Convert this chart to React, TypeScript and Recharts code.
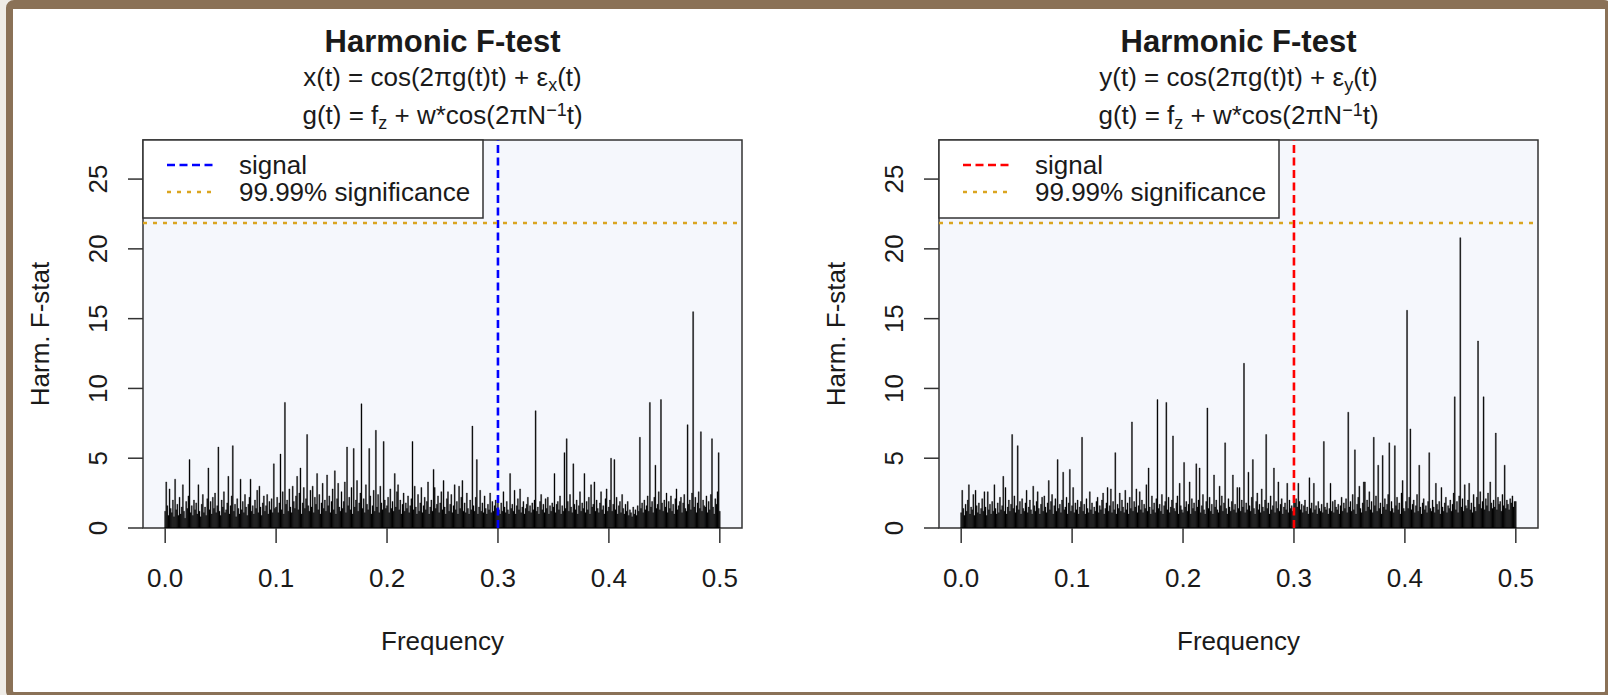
import React from 'react';
import { ComposedChart, Bar, XAxis, YAxis, CartesianGrid, ReferenceLine, ReferenceArea } from 'recharts';

// Harmonic F-statistic per frequency bin, bins are 0.001 apart.
// x(t) panel: bins 0-99, 100-199, 200-299, 300-399, 400-500
const fx0 = [
  1.2, 3.3, 1.6, 0.9, 2.8, 1.4, 1.1, 2.0, 0.8, 3.5,
  1.3, 1.7, 0.9, 2.2, 1.0, 1.5, 3.1, 1.2, 0.7, 1.9,
  1.4, 2.3, 4.9, 1.1, 1.6, 0.9, 2.0, 1.3, 1.8, 1.0,
  3.1, 1.2, 0.8, 1.7, 2.4, 1.1, 1.5, 0.9, 2.1, 4.3,
  1.3, 1.9, 1.0, 2.2, 1.4, 2.5, 1.1, 1.6, 5.8, 1.2,
  0.9, 2.0, 1.5, 2.6, 1.1, 1.3, 1.8, 3.7, 1.0, 1.6,
  2.3, 5.9, 1.2, 1.7, 0.8, 2.1, 1.4, 1.0, 3.5, 1.3,
  1.9, 1.1, 2.4, 1.5, 0.9, 1.7, 2.2, 3.5, 1.2, 1.6,
  1.0, 2.0, 1.4, 2.7, 1.1, 3.0, 1.5, 0.9, 1.8, 2.3,
  1.2, 1.6, 2.4, 1.0, 1.9, 1.3, 2.1, 1.1, 4.6, 1.4,
];
const fx1 = [
  1.5, 2.2, 1.1, 1.8, 5.3, 1.3, 2.6, 1.0, 9.0, 1.7,
  2.0, 1.2, 2.8, 1.5, 1.1, 3.0, 1.9, 1.4, 2.3, 3.7,
  1.3, 2.5, 4.3, 1.0, 1.8, 2.9, 1.4, 2.1, 6.7, 1.6,
  1.2, 2.7, 1.5, 3.0, 1.1, 2.2, 1.7, 3.9, 1.3, 2.4,
  1.0, 1.8, 3.2, 1.4, 2.0, 1.2, 3.8, 1.6, 2.3, 1.1,
  1.9, 2.8, 1.3, 4.1, 1.0, 2.1, 3.2, 1.5, 1.2, 2.6,
  1.4, 1.9, 3.3, 1.1, 5.8, 1.6, 2.2, 1.3, 2.9, 1.0,
  5.7, 1.5, 2.0, 3.4, 1.2, 1.8, 2.5, 8.9, 1.4, 2.1,
  1.1, 3.1, 1.7, 1.3, 5.7, 2.3, 1.0, 1.6, 2.7, 1.2,
  7.0, 1.5, 2.4, 1.1, 3.0, 1.8, 1.3, 6.2, 2.0, 1.4,
];
const fx2 = [
  1.6, 2.2, 1.1, 2.8, 1.4, 1.9, 1.2, 3.9, 1.5, 2.6,
  3.1, 1.3, 2.0, 1.0, 1.7, 2.5, 1.2, 1.8, 1.4, 2.3,
  1.1, 1.6, 2.1, 6.2, 1.3, 3.0, 1.5, 1.0, 2.4, 1.2,
  1.8, 2.9, 1.1, 1.6, 2.2, 1.3, 1.9, 3.3, 1.0, 1.5,
  2.0, 1.2, 4.2, 2.9, 1.4, 1.7, 2.3, 1.1, 1.8, 2.6,
  1.3, 3.4, 1.5, 1.0, 2.1, 2.6, 1.2, 1.7, 2.4, 1.1,
  1.6, 3.1, 1.3, 1.9, 1.0, 3.0, 1.4, 2.2, 3.4, 1.2,
  1.8, 1.1, 2.5, 1.4, 1.0, 2.0, 1.3, 7.3, 1.6, 1.2,
  2.2, 4.9, 1.0, 1.5, 2.7, 1.2, 1.8, 1.1, 2.3, 1.4,
  1.0, 1.7, 1.3, 2.5, 1.1, 1.9, 1.2, 1.6, 2.0, 1.4,
];
const fx3 = [
  2.2, 1.3, 1.0, 1.8, 1.2, 2.6, 1.5, 1.1, 1.9, 1.3,
  1.0, 3.9, 1.4, 1.7, 1.2, 2.7, 1.0, 1.6, 2.1, 1.3,
  2.8, 1.1, 1.5, 1.9, 1.0, 1.4, 1.7, 2.2, 1.2, 1.6,
  1.1, 1.8, 1.3, 2.0, 8.4, 1.2, 1.5, 1.0, 1.9, 2.4,
  1.3, 1.7, 1.1, 2.1, 1.4, 2.2, 1.0, 1.6, 1.2, 1.8,
  1.5, 3.9, 1.1, 1.7, 1.9, 1.3, 2.3, 1.0, 1.6, 1.2,
  5.4, 1.4, 6.4, 1.9, 1.2, 2.4, 1.5, 1.1, 4.6, 1.7,
  1.3, 2.0, 1.0, 1.6, 2.6, 1.2, 1.8, 1.4, 3.9, 1.1,
  1.9, 1.3, 2.2, 1.0, 3.1, 1.5, 1.7, 3.3, 1.2, 2.0,
  1.4, 1.1, 1.8, 2.6, 1.3, 1.6, 1.0, 2.1, 2.8, 1.2,
];
const fx4 = [
  1.5, 2.0, 5.0, 1.2, 1.7, 4.9, 1.3, 2.2, 1.0, 1.6,
  1.9, 1.1, 2.4, 1.4, 1.0, 1.7, 1.2, 1.9, 0.9, 1.3,
  1.1, 0.8, 1.5, 1.0, 1.3, 0.9, 1.6, 1.2, 6.5, 1.4,
  1.8, 1.1, 2.0, 1.3, 1.6, 2.3, 1.2, 9.0, 1.5, 1.9,
  1.1, 2.2, 4.5, 1.4, 1.7, 2.6, 1.3, 9.2, 1.8, 1.2,
  2.0, 1.5, 2.5, 1.1, 1.9, 1.4, 2.3, 1.2, 1.7, 1.0,
  2.1, 2.8, 1.3, 1.6, 1.9, 2.2, 1.1, 1.8, 2.4, 1.4,
  1.2, 7.4, 1.7, 2.0, 1.3, 2.5, 15.5, 1.5, 2.2, 1.1,
  1.8, 2.6, 1.4, 6.9, 1.2, 2.0, 1.6, 1.5, 2.3, 1.1,
  1.9, 1.3, 2.4, 6.4, 1.5, 1.0, 2.1, 1.7, 2.6, 5.4,
  1.2,
];

// y(t) panel
const fy0 = [
  1.1, 2.7, 1.4, 0.9, 1.7, 1.2, 2.0, 3.1, 1.0, 1.5,
  1.3, 2.4, 0.9, 2.7, 1.6, 1.1, 1.8, 1.0, 1.4, 2.1,
  1.2, 2.6, 1.5, 0.9, 2.6, 1.3, 1.7, 1.0, 1.9, 1.2,
  3.1, 1.4, 1.0, 1.8, 1.1, 2.2, 1.3, 1.6, 3.7, 1.2,
  2.9, 1.0, 1.5, 2.0, 1.2, 1.7, 6.7, 1.4, 2.3, 1.1,
  1.6, 5.9, 1.3, 1.9, 1.0, 2.1, 1.4, 1.2, 1.8, 2.7,
  1.1, 1.5, 2.0, 1.3, 1.0, 3.0, 1.6, 1.2, 1.9, 2.6,
  1.4, 1.0, 1.7, 2.2, 1.2, 2.3, 1.5, 1.1, 1.8, 3.4,
  1.3, 1.9, 2.4, 1.0, 1.6, 2.1, 1.2, 4.9, 1.4, 1.7,
  1.1, 2.0, 4.0, 1.3, 1.5, 2.2, 1.0, 1.8, 4.2, 1.2,
];
const fy1 = [
  1.6, 2.9, 1.1, 1.8, 1.3, 2.0, 1.0, 1.5, 1.9, 6.5,
  1.2, 1.7, 1.0, 2.1, 1.4, 1.1, 2.6, 1.3, 1.8, 1.0,
  1.5, 1.2, 1.9, 2.2, 1.1, 1.6, 1.3, 2.0, 2.5, 1.0,
  1.4, 1.8, 2.9, 1.2, 1.6, 2.8, 1.1, 1.9, 1.3, 5.4,
  1.0, 1.7, 1.4, 2.5, 1.2, 2.0, 1.5, 1.1, 2.7, 1.3,
  1.8, 1.0, 2.2, 1.4, 7.6, 1.2, 1.9, 1.5, 2.8, 1.1,
  1.6, 2.6, 1.3, 2.0, 1.1, 1.7, 1.4, 3.1, 1.2, 4.3,
  1.5, 1.0, 2.3, 1.3, 1.8, 1.1, 2.1, 9.2, 1.4, 1.7,
  1.2, 2.4, 1.0, 1.6, 1.9, 9.0, 1.3, 2.2, 1.1, 1.5,
  2.0, 6.6, 1.4, 1.2, 1.8, 2.3, 1.0, 3.2, 1.6, 1.3,
];
const fy2 = [
  1.1, 4.7, 1.5, 1.9, 1.2, 1.7, 3.3, 1.0, 2.1, 1.4,
  1.8, 1.2, 4.6, 1.5, 2.0, 4.3, 1.1, 1.6, 2.4, 1.3,
  1.0, 1.9, 8.6, 1.4, 2.2, 1.2, 1.7, 1.0, 3.8, 1.5,
  2.0, 1.3, 1.1, 3.0, 1.6, 2.3, 1.2, 1.8, 6.1, 1.4,
  1.0, 2.1, 1.5, 1.2, 1.9, 3.8, 1.3, 1.7, 1.1, 2.9,
  1.4, 2.9, 1.2, 2.0, 1.5, 11.8, 1.1, 1.8, 1.3, 4.0,
  1.6, 1.2, 2.2, 4.9, 1.4, 1.0, 1.9, 2.5, 1.3, 1.7,
  1.1, 2.8, 1.5, 1.2, 2.0, 6.7, 1.4, 1.8, 1.0, 2.3,
  1.3, 1.6, 4.3, 1.1, 1.9, 1.4, 3.3, 1.2, 1.7, 2.1,
  1.0, 1.5, 1.8, 1.3, 3.2, 1.1, 2.0, 1.4, 1.6, 1.2,
];
const fy3 = [
  2.3, 1.8, 2.1, 1.5, 3.2, 1.9, 1.3, 1.7, 1.1, 1.6,
  2.0, 1.2, 1.5, 1.0, 3.6, 1.4, 1.8, 1.1, 3.2, 1.3,
  1.6, 1.0, 1.9, 1.4, 1.2, 1.7, 1.1, 6.2, 1.5, 1.3,
  1.8, 1.0, 1.4, 3.2, 1.2, 1.9, 1.1, 2.0, 1.5, 1.3,
  1.7, 1.0, 1.6, 2.2, 1.2, 1.8, 1.4, 2.1, 1.1, 8.3,
  1.5, 1.9, 1.2, 2.4, 1.3, 5.6, 1.0, 1.7, 2.2, 3.0,
  1.4, 1.1, 1.8, 3.3, 3.3, 1.2, 2.0, 1.5, 2.6, 1.3,
  1.9, 1.1, 6.5, 1.6, 2.3, 1.2, 4.5, 1.4, 1.8, 1.0,
  5.2, 1.5, 2.1, 1.3, 1.7, 2.4, 6.1, 1.2, 1.9, 1.4,
  1.1, 5.9, 1.6, 2.2, 1.3, 1.8, 1.0, 2.5, 3.4, 1.4,
];
const fy4 = [
  1.2, 1.9, 15.6, 1.4, 2.2, 7.1, 1.3, 1.7, 2.0, 1.1,
  1.6, 2.4, 1.2, 4.5, 1.5, 1.0, 1.8, 2.1, 1.3, 1.6,
  1.1, 1.9, 5.4, 1.4, 1.2, 2.0, 1.5, 1.1, 3.2, 1.7,
  1.3, 1.9, 1.0, 2.9, 1.5, 1.2, 1.8, 2.2, 1.1, 1.6,
  1.4, 2.0, 1.2, 1.7, 2.5, 9.4, 1.3, 1.9, 1.1, 2.3,
  20.8, 1.5, 2.1, 1.2, 3.1, 1.6, 1.4, 2.0, 3.2, 1.3,
  1.8, 1.1, 2.4, 1.5, 1.2, 2.2, 13.4, 1.7, 2.6, 1.4,
  1.9, 9.4, 1.3, 2.1, 1.6, 2.5, 1.2, 3.3, 1.8, 1.4,
  2.0, 1.5, 6.8, 1.3, 2.2, 1.7, 1.9, 1.2, 2.4, 1.6,
  4.5, 1.4, 2.0, 1.7, 1.3, 2.1, 1.8, 2.3, 1.5, 1.9,
  1.9,
];

const FREQ_STEP = 0.001;
const SIGNAL_FREQ = 0.3;
const SIG_LEVEL = 21.85; // 99.99% significance
const xTicks = [0, 0.1, 0.2, 0.3, 0.4, 0.5];
const yTicks = [0, 5, 10, 15, 20, 25];

const FONT = '"Liberation Sans", Arial, Helvetica, sans-serif';
const INK = '#1a1a1a';
const GOLD = '#daa520';

const toRows = (parts: number[][]) =>
  parts.flat().map((F, i) => ({ freq: +(i * FREQ_STEP).toFixed(3), F }));

const xData = toRows([fx0, fx1, fx2, fx3, fx4]);
const yData = toRows([fy0, fy1, fy2, fy3, fy4]);

const XTick = (props: any) => (
  <text x={props.x} y={props.y + 42} textAnchor="middle" fontSize={26} fontFamily={FONT} fill={INK}>
    {Number(props.payload.value).toFixed(1)}
  </text>
);

const YTick = (props: any) => {
  const x = props.x - 19;
  return (
    <text x={x} y={props.y} transform={`rotate(-90, ${x}, ${props.y})`} textAnchor="middle" fontSize={26} fontFamily={FONT} fill={INK}>
      {props.payload.value}
    </text>
  );
};

interface PanelProps {
  data: { freq: number; F: number }[];
  left: number;
  v: string;
  color: string;
}

const Panel: React.FC<PanelProps> = ({ data, left, v, color }) => {
  const cx = 442.5;
  return (
    <div style={{ position: 'absolute', left, top: 0, width: 800, height: 695 }}>
      <ComposedChart width={800} height={695} data={data} margin={{ top: 140, right: 58, bottom: 87, left: 83 }}>
        <CartesianGrid fill="#f5f7fc" stroke="none" horizontal={false} vertical={false} />
        <XAxis
          type="number"
          dataKey="freq"
          domain={[-0.02, 0.52]}
          ticks={xTicks}
          interval={0}
          allowDataOverflow
          axisLine={false}
          tickSize={15}
          tickLine={{ stroke: '#333', strokeWidth: 1.5 }}
          tick={XTick}
          height={80}
        />
        <YAxis
          type="number"
          domain={[0, 27.8]}
          ticks={yTicks}
          interval={0}
          allowDataOverflow
          axisLine={false}
          tickSize={15}
          tickLine={{ stroke: '#333', strokeWidth: 1.5 }}
          tick={YTick}
          width={60}
        />
        <Bar dataKey="F" fill="#000" stroke="#000" strokeWidth={0.35} barSize={1.2} isAnimationActive={false} />
        <ReferenceLine x={SIGNAL_FREQ} stroke={color} strokeWidth={2.6} strokeDasharray="8 4.5" />
        <ReferenceLine y={SIG_LEVEL} stroke={GOLD} strokeWidth={2.6} strokeDasharray="4 6" />
        <ReferenceArea x1={-0.02} x2={0.52} y1={0} y2={27.8} fill="none" stroke="#333" strokeWidth={1.5} />
      </ComposedChart>
      <svg width={800} height={695} style={{ position: 'absolute', left: 0, top: 0, pointerEvents: 'none' }} fontFamily={FONT} fill={INK}>
        <text x={cx} y={52} textAnchor="middle" fontSize={31} fontWeight="bold">Harmonic F-test</text>
        <text x={cx} y={86} textAnchor="middle" fontSize={26}>
          {v}(t) = cos(2πg(t)t) + ε<tspan fontSize={18} dy={5}>{v}</tspan><tspan dy={-5}>(t)</tspan>
        </text>
        <text x={cx} y={124} textAnchor="middle" fontSize={26}>
          g(t) = f<tspan fontSize={18} dy={5}>z</tspan><tspan dy={-5}> + w*cos(2πN</tspan>
          <tspan fontSize={18} dy={-8}>−1</tspan><tspan dy={8}>t)</tspan>
        </text>
        <text x={49} y={334} transform="rotate(-90, 49, 334)" textAnchor="middle" fontSize={26}>Harm. F-stat</text>
        <text x={cx} y={650} textAnchor="middle" fontSize={26}>Frequency</text>
        <rect x={143} y={140} width={340} height={78} fill="#fff" stroke="#333" strokeWidth={1.5} />
        <line x1={167} x2={213} y1={165} y2={165} stroke={color} strokeWidth={2.6} strokeDasharray="8 4.5" />
        <line x1={167} x2={213} y1={192} y2={192} stroke={GOLD} strokeWidth={2.6} strokeDasharray="4 6" />
        <text x={239} y={174} fontSize={26}>signal</text>
        <text x={239} y={201} fontSize={26}>99.99% significance</text>
      </svg>
    </div>
  );
};

export default function App() {
  return (
    <div style={{ position: 'absolute', left: 0, top: 0, width: 1608, height: 695, overflow: 'hidden', background: '#efece7' }}>
      <div
        style={{
          position: 'absolute',
          left: 6,
          top: 0,
          width: 1606,
          height: 699,
          boxSizing: 'border-box',
          background: '#fff',
          borderStyle: 'solid',
          borderColor: '#8a7157',
          borderWidth: '9px 7px 7px 7px',
          borderRadius: 8,
        }}
      />
      <Panel data={xData} left={0} v="x" color="#0000ff" />
      <Panel data={yData} left={796} v="y" color="#ff0000" />
    </div>
  );
}
